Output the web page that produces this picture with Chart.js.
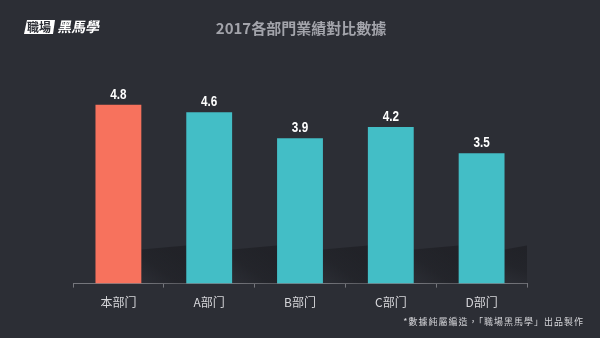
<!DOCTYPE html>
<html><head><meta charset="utf-8">
<script src="https://cdn.jsdelivr.net/npm/chart.js@4"></script>
<style>
html,body{margin:0;padding:0;background:#2c2e35;}
#wrap{position:relative;width:600px;height:338px;}
</style></head>
<body><div id="wrap"><canvas id="c" width="600" height="338"></canvas></div>
<script>
const categories = ["本部门", "A部门", "B部门", "C部门", "D部门"];
const values = [4.8, 4.6, 3.9, 4.2, 3.5];
const barColors = ["#f7725d", "#43bec6", "#43bec6", "#43bec6", "#43bec6"];
const titleText = "2017各部門業績對比數據";
const footText = "*數據純屬編造，「職場黑馬學」出品製作";

const CJK = '"Noto Sans CJK TC","Noto Sans CJK SC",sans-serif';

const decor = {
  id: 'decor',
  beforeDatasetsDraw(chart) {
    const ctx = chart.ctx;
    const meta = chart.getDatasetMeta(0);
    const base = chart.scales.y.getPixelForValue(0);
    const right = chart.chartArea.right;
    ctx.save();
    meta.data.forEach((bar, i) => {
      const r = bar.x + bar.width / 2;
      const next = i + 1 < meta.data.length ? meta.data[i + 1].x - meta.data[i + 1].width / 2 : right;
      const w = Math.min(next - r, 45);
      const g = ctx.createLinearGradient(r, base, r + w * 0.6, base - 36);
      g.addColorStop(0, 'rgba(30,31,36,0.0)');
      g.addColorStop(0.5, 'rgba(30,31,36,0.6)');
      g.addColorStop(1, 'rgba(30,31,36,0.75)');
      ctx.fillStyle = g;
      ctx.beginPath();
      ctx.moveTo(r, base);
      ctx.lineTo(r, base - 34);
      ctx.lineTo(r + w, base - 38);
      ctx.lineTo(r + w, base);
      ctx.closePath();
      ctx.fill();
    });
    ctx.restore();
  },
  afterDatasetsDraw(chart) {
    const ctx = chart.ctx;
    const meta = chart.getDatasetMeta(0);
    ctx.save();
    ctx.fillStyle = '#ffffff';
    ctx.textAlign = 'center';
    ctx.textBaseline = 'middle';
    ctx.font = 'bold 15px "Liberation Sans",sans-serif';
    meta.data.forEach((bar, i) => {
      ctx.setTransform(0.78, 0, 0, 1, bar.x, bar.y - 10);
      ctx.fillText(values[i].toFixed(1), 0, 0);
    });
    ctx.setTransform(1, 0, 0, 1, 0, 0);
    ctx.restore();
  },
  afterDraw(chart) {
    const ctx = chart.ctx;
    ctx.save();
    ctx.fillStyle = '#a3a4ab';
    ctx.font = 'bold 15px ' + CJK;
    ctx.textAlign = 'center';
    ctx.textBaseline = 'middle';
    ctx.fillText(titleText, 301, 28);
    ctx.fillStyle = '#ffffff';
    ctx.beginPath();
    ctx.moveTo(27, 20); ctx.lineTo(55, 20); ctx.lineTo(53, 34); ctx.lineTo(24, 34); ctx.closePath();
    ctx.fill();
    ctx.fillStyle = '#2c2e35';
    ctx.font = 'bold 12px ' + CJK;
    ctx.textAlign = 'left';
    ctx.fillText('職場', 27, 27.5);
    ctx.fillStyle = '#ffffff';
    ctx.setTransform(1, 0, -0.18, 1, 5, 0);
    ctx.font = 'bold 14px ' + CJK;
    ctx.fillText('黑馬學', 58, 27);
    ctx.setTransform(1, 0, 0, 1, 0, 0);
    ctx.fillStyle = '#d6d6da';
    ctx.font = '9px ' + CJK;
    ctx.textAlign = 'right';
    if ('letterSpacing' in ctx) ctx.letterSpacing = '1px';
    ctx.fillText(footText, 584, 322);
    ctx.restore();
  }
};

new Chart(document.getElementById('c'), {
  type: 'bar',
  data: {
    labels: categories,
    datasets: [{
      data: values,
      backgroundColor: barColors,
      borderWidth: 0,
      categoryPercentage: 1,
      barPercentage: 0.505
    }]
  },
  options: {
    responsive: false,
    animation: false,
    layout: { padding: { left: 73, right: 73, top: 60, bottom: 20 } },
    plugins: { legend: { display: false }, tooltip: { enabled: false }, title: { display: false } },
    scales: {
      y: { display: false, min: 0, max: 6 },
      x: {
        border: { display: true, color: '#75767c', width: 1 },
        grid: { display: true, drawOnChartArea: false, drawTicks: true, tickLength: 4, color: '#75767c', offset: true },
        ticks: { color: '#d6d6da', padding: 8, font: { size: 12, family: CJK } }
      }
    }
  },
  plugins: [decor]
});
</script></body></html>
